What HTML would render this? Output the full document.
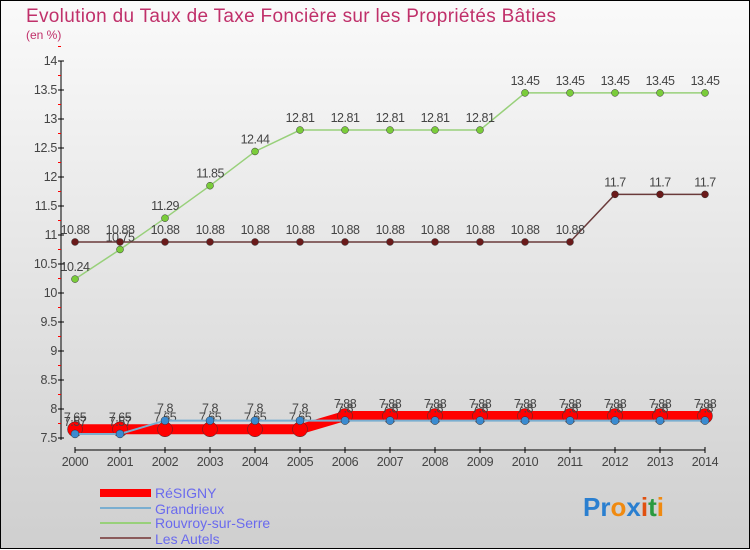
<!DOCTYPE html>
<html><head><meta charset="utf-8"><style>
body{margin:0;width:750px;height:550px;overflow:hidden;font-family:"Liberation Sans",sans-serif}
svg{display:block}
</style></head><body>
<svg id="c" width="750" height="550" xmlns="http://www.w3.org/2000/svg">
<defs><linearGradient id="bg" x1="0" y1="0" x2="0" y2="1"><stop offset="0" stop-color="#fafafa"/><stop offset="1" stop-color="#cfcfcf"/></linearGradient></defs>
<rect x="0.5" y="0.5" width="749" height="548" fill="url(#bg)" stroke="#000"/>
<text x="26" y="22" font-size="19" fill="#c0306a" textLength="530">Evolution du Taux de Taxe Foncière sur les Propriétés Bâties</text>
<text x="26" y="39" font-size="12" fill="#c0306a">(en %)</text>
<g id="axes"></g><g id="series"></g>
<g>
<rect x="100" y="489" width="51" height="8" fill="#f00"/>
<text x="155" y="498" font-size="14" fill="#6a6aee">RéSIGNY</text>
<rect x="100" y="507" width="51" height="2" fill="#7aaed0"/>
<text x="155" y="514" font-size="14" fill="#6a6aee">Grandrieux</text>
<rect x="100" y="522" width="51" height="2" fill="#98d07a"/>
<text x="155" y="528" font-size="14" fill="#6a6aee">Rouvroy-sur-Serre</text>
<rect x="100" y="537" width="51" height="2" fill="#8a5a5a"/>
<text x="155" y="544" font-size="14" fill="#6a6aee">Les Autels</text>
</g>
<text x="583" y="516" font-size="26" font-weight="bold"><tspan fill="#2a7fd0">Pr</tspan><tspan fill="#f08a10">o</tspan><tspan fill="#2a7fd0">x</tspan><tspan fill="#e05010">i</tspan><tspan fill="#2a9a40">t</tspan><tspan fill="#f08a10">i</tspan></text>
</svg>
<script>
const years=[2000,2001,2002,2003,2004,2005,2006,2007,2008,2009,2010,2011,2012,2013,2014];
const resigny=[7.65,7.65,7.65,7.65,7.65,7.65,7.88,7.88,7.88,7.88,7.88,7.88,7.88,7.88,7.88];
const grandrieux=[7.57,7.57,7.8,7.8,7.8,7.8,7.8,7.8,7.8,7.8,7.8,7.8,7.8,7.8,7.8];
const rouvroy=[10.24,10.75,11.29,11.85,12.44,12.81,12.81,12.81,12.81,12.81,13.45,13.45,13.45,13.45,13.45];
const autels=[10.88,10.88,10.88,10.88,10.88,10.88,10.88,10.88,10.88,10.88,10.88,10.88,11.7,11.7,11.7];
const yTicks=[7.5,8,8.5,9,9.5,10,10.5,11,11.5,12,12.5,13,13.5,14];
const NS="http://www.w3.org/2000/svg";
const X=i=>75+i*45, Y=v=>438-(v-7.5)*58;
function mk(t,a,p){const e=document.createElementNS(NS,t);for(const k in a)e.setAttribute(k,a[k]);p.appendChild(e);return e;}
const ax=document.getElementById('axes'),sg=document.getElementById('series');
let l=mk('line',{x1:61,y1:61,x2:61,y2:440,stroke:'#000'},ax);


yTicks.forEach(v=>{mk('line',{x1:58,x2:64,y1:Y(v),y2:Y(v),stroke:'#000'},ax);
 mk('line',{x1:58,x2:61,y1:Y(v+0.25),y2:Y(v+0.25),stroke:'#f00'},ax);
 const t=mk('text',{x:57,y:Y(v)+4,'text-anchor':'end','font-size':12.5,fill:'#444','letter-spacing':'-0.3'},ax);t.textContent=String(v);
 
 });
l=mk('line',{x1:75,y1:450,x2:705,y2:450,stroke:'#000'},ax);


years.forEach((y,i)=>{mk('line',{x1:X(i),x2:X(i),y1:447,y2:453,stroke:'#000'},ax);
 const t=mk('text',{x:X(i),y:466,'text-anchor':'middle','font-size':12.5,fill:'#444','letter-spacing':'-0.3'},ax);t.textContent=y;
 
 });
function series(d,col,w,r,pc,name){const g=mk('g',{},sg);
 
 
 mk('polyline',{points:d.map((v,i)=>X(i)+','+Y(v)).join(' '),fill:'none',stroke:col,'stroke-width':w},g);
 d.forEach((v,i)=>{const c=mk('circle',{cx:X(i),cy:Y(v),r:r,fill:pc,stroke:'#333','stroke-width':0.5},g);
  
  
  const t=mk('text',{x:X(i),y:Y(v)-8,'text-anchor':'middle','font-size':12.5,fill:'#444','letter-spacing':'-0.5'},g);t.textContent=String(v);
  
  });}
series(rouvroy,'#98d07a',1.5,3.5,'#7acc3a','rouvroy');
series(autels,'#6a3a3a',1.5,3.5,'#6a1a1a','les-autels');
series(resigny,'#f00',10,7.5,'#f00','resigny');
series(grandrieux,'#7aaed0',2,4,'#3a8ad0','grandrieux');
</script>
</body></html>
